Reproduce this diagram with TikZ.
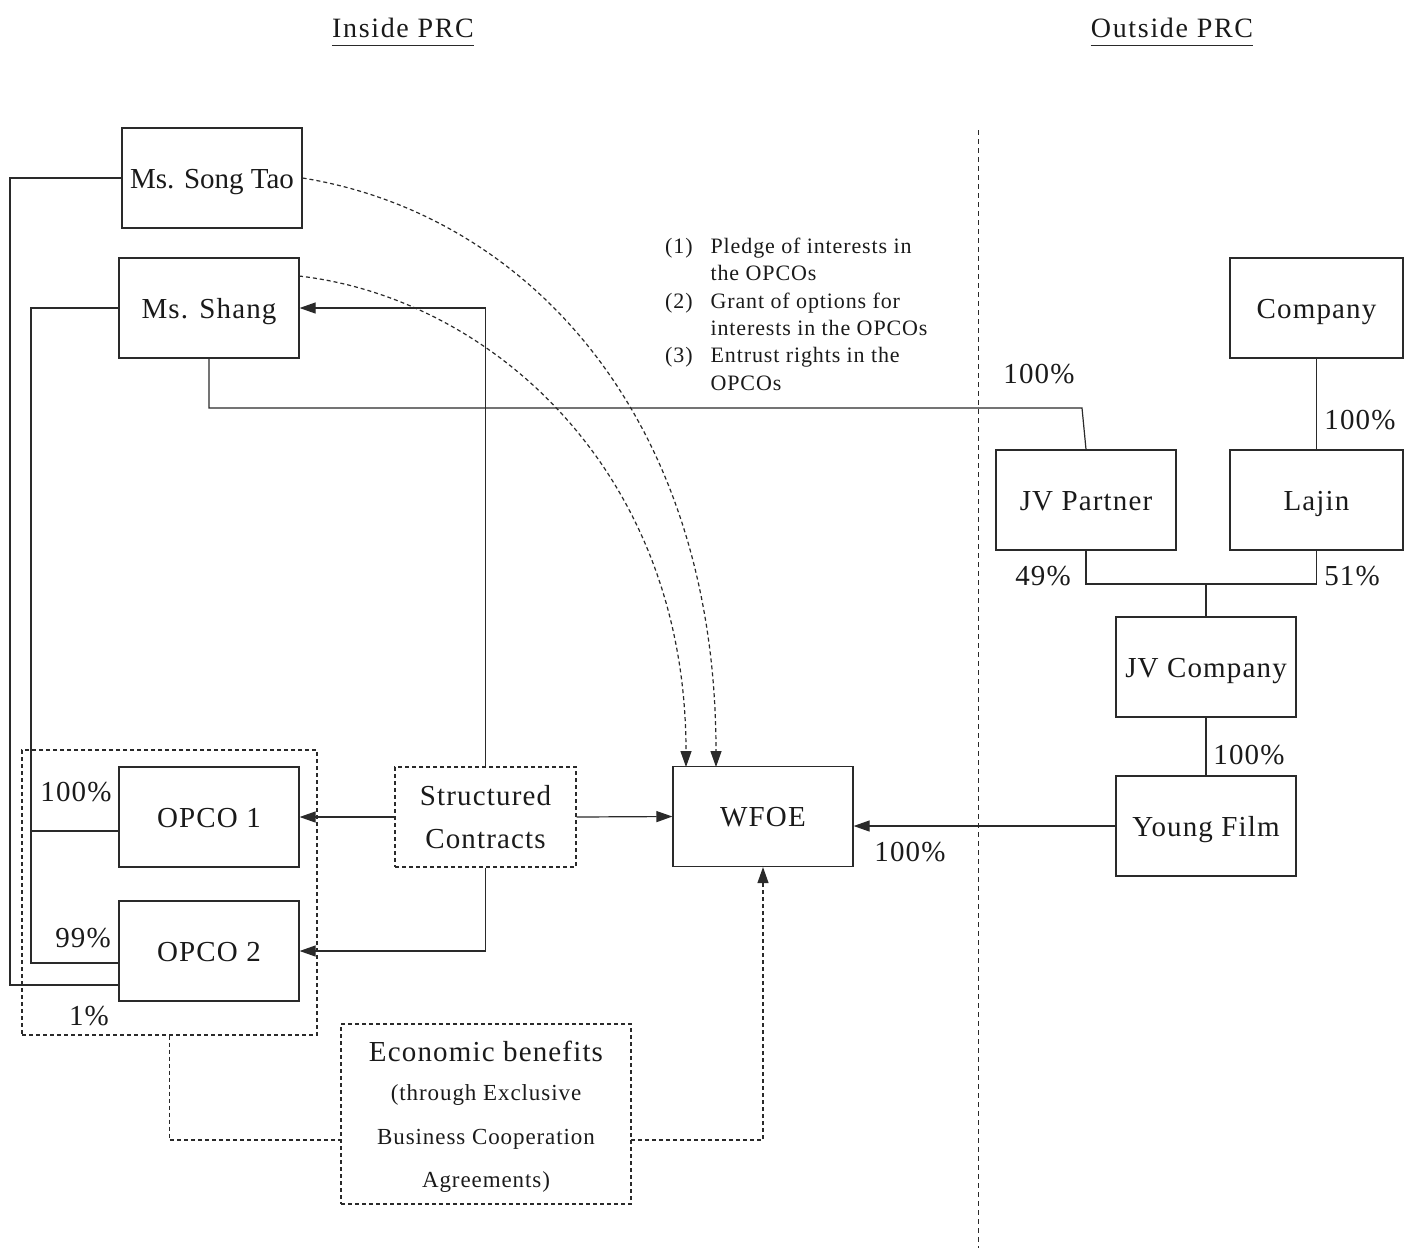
\documentclass[tikz,border=0pt]{standalone}
\usepackage{fontspec}
\setmainfont{Liberation Serif}
\newfontfamily\lsfont[LetterSpace=4]{Liberation Serif}
\newfontfamily\lsfontb[LetterSpace=6]{Liberation Serif}
\newfontfamily\plainfont{Liberation Serif}
\usetikzlibrary{arrows.meta,calc}
\definecolor{lc}{HTML}{2A2A2A}
\definecolor{tc}{HTML}{1A1A1A}
\tikzset{
  frame/.style={draw=lc, line width=1.2pt, minimum width=180pt, minimum height=100pt, inner sep=0pt, text=tc, font=\lsfont\fontsize{29}{43}\selectfont, align=center},
  box/.style={frame, text height=24pt, text depth=4pt},
  dbox/.style={frame, dash pattern=on 4pt off 3pt},
  ln/.style={draw=lc, line width=1.2pt},
  arr/.style={ln, -{Triangle[length=16pt,width=11pt]}},
  dln/.style={ln, dash pattern=on 4pt off 3pt},
  darr/.style={dln, -{Triangle[length=16pt,width=11pt]}},
  pct/.style={inner sep=0pt, text=tc, font=\lsfont\fontsize{29}{34}\selectfont},
  hdr/.style={inner sep=0pt, text=tc, font=\lsfontb\fontsize{28}{34}\selectfont},
  small/.style={inner sep=0pt, text=tc, font=\lsfont\fontsize{23}{44}\selectfont},
}
\begin{document}
\begin{tikzpicture}[x=1pt,y=-1pt]
\useasboundingbox (0,0) rectangle (1404,1251);

% headers
\node[hdr] (hin) at (403,28) {Inside PRC};
\draw[ln, line width=1pt] ($(hin.south west)+(0,7)$) -- ($(hin.south east)+(0,7)$);
\node[hdr] (hout) at (1172,28) {Outside PRC};
\draw[ln, line width=1pt] ($(hout.south west)+(0,7)$) -- ($(hout.south east)+(0,7)$);

% divider
\coordinate (dtop) at (978,130);
\coordinate (dbot) at (978,1248);
\draw[draw=lc, line width=1pt, dash pattern=on 5pt off 4pt] (dtop) -- (dbot);

% boxes
\node[box, font=\plainfont\fontsize{29}{43}\selectfont] (song) at (212,178) {Ms. Song Tao};
\node[box] (shang) at (209,308) {Ms. Shang};
\node[box] (opco1) at (209,817) {OPCO 1};
\node[box] (opco2) at (209,951) {OPCO 2};
\node[dbox, minimum width=181pt] (sc) at (485.5,817) {Structured\\Contracts};
\node[box] (wfoe) at (763,816.5) {WFOE};
\node[box] (yf) at (1206,826) {Young Film};
\node[box] (jvc) at (1206,667) {JV Company};
\node[box] (jvp) at (1086,500) {JV Partner};
\node[box, minimum width=173pt] (lajin) at (1316.5,500) {Lajin};
\node[box, minimum width=173pt] (company) at (1316.5,308) {Company};

% group box
\node[draw=lc, line width=1.2pt, dash pattern=on 4pt off 3pt, minimum width=295pt, minimum height=285pt, inner sep=0pt] (grp) at (169.5,892.5) {};

% economic benefits box
\node[draw=lc, line width=1.2pt, dash pattern=on 4pt off 3pt, minimum width=290pt, minimum height=180pt, inner sep=0pt] (econ) at (486,1114) {};
\node[pct] (e1) at (486,1051) {Economic benefits};
\node[small] (e2) at (486,1095) {(through Exclusive};
\node[small] (e3) at (486,1139) {Business Cooperation};
\node[small] (e4) at (486,1182) {Agreements)};

% list text
\node[anchor=north west, inner sep=0pt, text=tc, font=\lsfont\fontsize{22}{27.4}\selectfont] (list) at (665,234)
{\begin{tabular}{@{}l@{\hspace{18pt}}l@{}}
(1) & Pledge of interests in\\
    & the OPCOs\\
(2) & Grant of options for\\
    & interests in the OPCOs\\
(3) & Entrust rights in the\\
    & OPCOs
\end{tabular}};

% percentage labels
\node[pct] (p1) at (1039,374) {100\%};
\node[pct] (p2) at (1360,420) {100\%};
\node[pct] (p3) at (1043,576) {49\%};
\node[pct] (p4) at (1352,576) {51\%};
\node[pct] (p5) at (1249,755) {100\%};
\node[pct] (p6) at (910,852) {100\%};
\node[pct] (p7) at (76,792) {100\%};
\node[pct] (p8) at (83,938) {99\%};
\node[pct] (p9) at (89,1016) {1\%};

% coordinates
\coordinate (jun) at (1206,584);
\coordinate (sh2) at (1082,408);
\coordinate (l1) at (31,308);
\coordinate (l2) at (31,963);
\coordinate (l3) at (31,831);
\coordinate (s1) at (10,178);
\coordinate (s2) at (10,985);
\coordinate (el) at (341,1140);
\coordinate (er) at (631,1140);
\coordinate (g1) at (169.5,1140);
\coordinate (wt1) at (716,767);
\coordinate (wt2) at (686,767);
\coordinate (sht) at (299,276);

% right side ownership
\draw[ln] (company.south) -- (lajin.north);
\draw[ln] (jvp.south) |- (jun) -| (lajin.south);
\draw[ln] (jun) -- (jvc.north);
\draw[ln] (jvc.south) -- (yf.north);
\draw[arr] (yf.west) -- (wfoe.east |- yf.west);

% Ms. Shang to JV Partner
\draw[ln] (shang.south) |- (sh2) -- (jvp.north);

% structured contracts
\draw[arr] (sc.east) -- (wfoe.west);
\draw[arr] (sc.west) -- (opco1.east);
\draw[arr] (sc.south) |- (opco2.east);
\draw[arr] (sc.north) |- (shang.east);

% Ms. Shang ownership
\draw[ln] (shang.west) -- (l1) -- (l2) -- (opco2.west |- l2);
\draw[ln] (l3) -- (opco1.west |- l3);

% Ms. Song Tao ownership
\draw[ln] (song.west) -- (s1) -- (s2) -- (opco2.west |- s2);

% dashed curves
\draw[darr] (song.east) .. controls (530,215) and (716,420) .. (wt1);
\draw[darr] (sht) .. controls (490,298) and (686,470) .. (wt2);

% economic benefits
\draw[dln] (grp.south) -- (g1) -- (el);
\draw[darr] (er) -| (wfoe.south);
\end{tikzpicture}
\end{document}
